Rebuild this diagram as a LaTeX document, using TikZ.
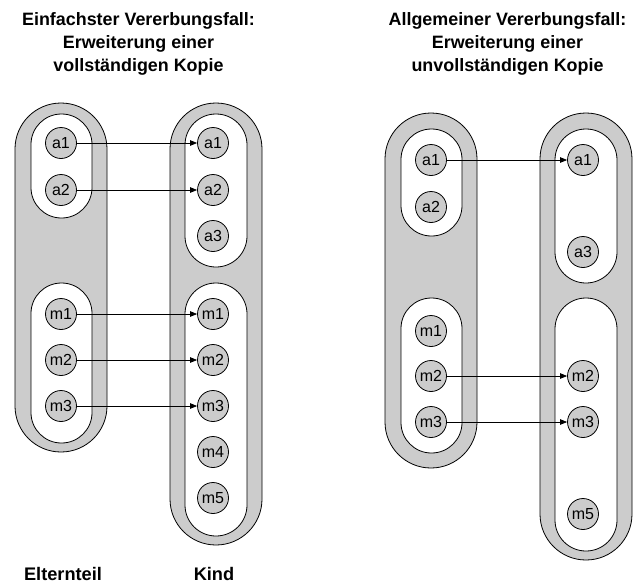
\documentclass[tikz,border=0pt]{standalone}
\usepackage{fontspec}
\setmainfont{Liberation Sans}
\usetikzlibrary{arrows.meta}
\definecolor{band}{RGB}{204,204,204}
\tikzset{
  outercaps/.style={draw=black, fill=band, line width=0.8pt},
  innercaps/.style={draw=black, fill=white, line width=0.8pt},
  member/.style={circle, draw=black, fill=band, line width=0.8pt, minimum size=31pt,
                 inner sep=0pt, font=\fontsize{16}{16}\selectfont},
  inherit/.style={line width=0.7pt, -{Triangle[length=7pt,width=5.5pt]}},
  heading/.style={align=center, font=\bfseries\fontsize{17.9}{22.6}\selectfont},
  caption/.style={font=\bfseries\fontsize{18.2}{22.6}\selectfont}
}
% capsule: left x, top y, right x, bottom y, style
\newcommand\capsule[5]{%
  \pgfmathsetmacro\caprad{(#3-#1)/2-0.05}%
  \draw[#5, rounded corners=\caprad pt] (#1,#2) rectangle (#3,#4);}
\begin{document}
\begin{tikzpicture}[x=1pt, y=-1pt]
\useasboundingbox (0,0) rectangle (634,584);

% ---------- left case: complete copy ----------
\node[heading] (t1) at (138.5,44) {Einfachster Vererbungsfall:\\Erweiterung einer\\vollständigen Kopie};

\capsule{15}{103}{107}{452}{outercaps}
\capsule{31}{114}{92}{218}{innercaps}
\capsule{31}{283}{92}{443}{innercaps}

\capsule{170}{103}{262}{545}{outercaps}
\capsule{185}{114}{247}{267}{innercaps}
\capsule{185}{283}{247}{536}{innercaps}

\node[member] (pa1) at (61,143) {a1};
\node[member] (pa2) at (61,190) {a2};
\node[member] (pm1) at (61,314) {m1};
\node[member] (pm2) at (61,360) {m2};
\node[member] (pm3) at (61,406) {m3};

\node[member] (ka1) at (213,143) {a1};
\node[member] (ka2) at (213,190) {a2};
\node[member] (ka3) at (213,236) {a3};
\node[member] (km1) at (213,314) {m1};
\node[member] (km2) at (213,360) {m2};
\node[member] (km3) at (213,406) {m3};
\node[member] (km4) at (213,452) {m4};
\node[member] (km5) at (213,498) {m5};

\draw[inherit] (pa1) -- (ka1);
\draw[inherit] (pa2) -- (ka2);
\draw[inherit] (pm1) -- (km1);
\draw[inherit] (pm2) -- (km2);
\draw[inherit] (pm3) -- (km3);

\node[caption] (lparent) at (63,574) {Elternteil};
\node[caption] (lchild) at (214,574) {Kind};

% ---------- right case: incomplete copy ----------
\node[heading] (t2) at (507.5,44) {Allgemeiner Vererbungsfall:\\Erweiterung einer\\unvollständigen Kopie};

\capsule{385}{113}{477}{468}{outercaps}
\capsule{401}{129}{462}{236}{innercaps}
\capsule{401}{298}{462}{453}{innercaps}

\capsule{540}{113}{632}{560}{outercaps}
\capsule{555}{129}{617}{283}{innercaps}
\capsule{555}{298}{617}{551}{innercaps}

\node[member] (qa1) at (431,160) {a1};
\node[member] (qa2) at (431,207) {a2};
\node[member] (qm1) at (431,331) {m1};
\node[member] (qm2) at (431,376) {m2};
\node[member] (qm3) at (431,422) {m3};

\node[member] (ra1) at (583,160) {a1};
\node[member] (ra3) at (583,252) {a3};
\node[member] (rm2) at (583,376) {m2};
\node[member] (rm3) at (583,422) {m3};
\node[member] (rm5) at (583,514) {m5};

\draw[inherit] (qa1) -- (ra1);
\draw[inherit] (qm2) -- (rm2);
\draw[inherit] (qm3) -- (rm3);
\end{tikzpicture}
\end{document}
